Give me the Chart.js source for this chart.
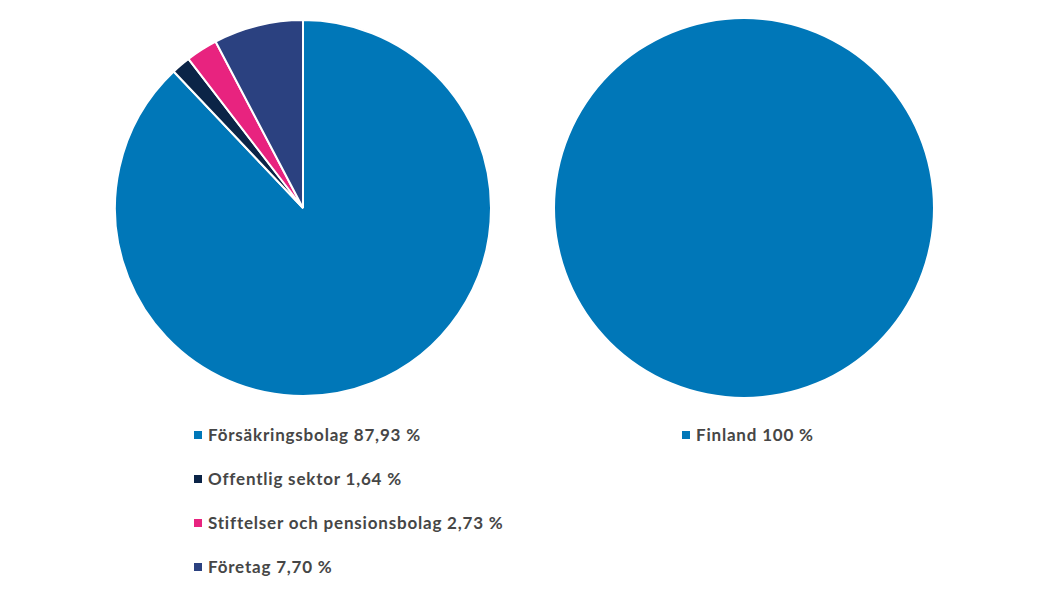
<!DOCTYPE html>
<html>
<head>
<meta charset="utf-8">
<title>Ägare</title>
<script src="https://cdn.jsdelivr.net/npm/chart.js@4.4.0/dist/chart.umd.min.js"></script>
<style>
  html, body { margin: 0; padding: 0; background: #fff; }
  body { width: 1050px; height: 591px; position: relative; overflow: hidden; }
  .pie { position: absolute; width: 378px; height: 378px; }
  .legend { position: absolute; list-style: none; margin: 0; padding: 0;
            font-family: Lato, "Open Sans", sans-serif; font-weight: bold;
            font-size: 17px; letter-spacing: 0.8px; color: #464646; }
  .legend li { height: 44px; line-height: 20px; display: flex; align-items: flex-start; }
  .legend span.box { width: 8px; height: 8px; margin: 6px 6px 0 0; flex: none; }
</style>
</head>
<body>
<div class="pie" style="left:114px; top:19px;"><canvas id="sektor"></canvas></div>
<div class="pie" style="left:555px; top:19px;"><canvas id="land"></canvas></div>
<ul class="legend" id="sektorLegend" style="left:194px; top:425px;"></ul>
<ul class="legend" id="landLegend" style="left:682px; top:425px;"></ul>

<script>
// ägare per sektor
var sektorLabels = ['Försäkringsbolag', 'Offentlig sektor', 'Stiftelser och pensionsbolag', 'Företag'];
var sektorValues = [87.93, 1.64, 2.73, 7.70];
var sektorColors = ['#0077b8', '#0b2447', '#e8237f', '#2b4180'];

// ägare per land
var landLabels = ['Finland'];
var landValues = [100];
var landColors = ['#0077b8'];

function fmt(v) {
  // svensk decimal, komma
  var s = (v % 1 === 0) ? String(v) : v.toFixed(2);
  return s.replace('.', ',') + ' %';
}

function makePie(id, labels, values, colors) {
  return new Chart(document.getElementById(id), {
    type: 'pie',
    data: {
      labels: labels,
      datasets: [{
        data: values,
        backgroundColor: colors,
        borderColor: '#ffffff',
        borderWidth: values.length > 1 ? 2 : 0,
        hoverOffset: 0
      }]
    },
    options: {
      responsive: true,
      maintainAspectRatio: false,
      animation: false,
      layout: { padding: 0 },
      plugins: {
        legend: { display: false },
        tooltip: { enabled: false }
      }
    }
  });
}

function makeLegend(id, labels, values, colors) {
  var ul = document.getElementById(id);
  for (var i = 0; i < labels.length; i++) {
    var li = document.createElement('li');
    var box = document.createElement('span');
    box.className = 'box';
    box.style.background = colors[i];
    li.appendChild(box);
    li.appendChild(document.createTextNode(labels[i] + ' ' + fmt(values[i])));
    ul.appendChild(li);
  }
}

makePie('sektor', sektorLabels, sektorValues, sektorColors);
makePie('land', landLabels, landValues, landColors);
makeLegend('sektorLegend', sektorLabels, sektorValues, sektorColors);
makeLegend('landLegend', landLabels, landValues, landColors);
</script>
</body>
</html>
